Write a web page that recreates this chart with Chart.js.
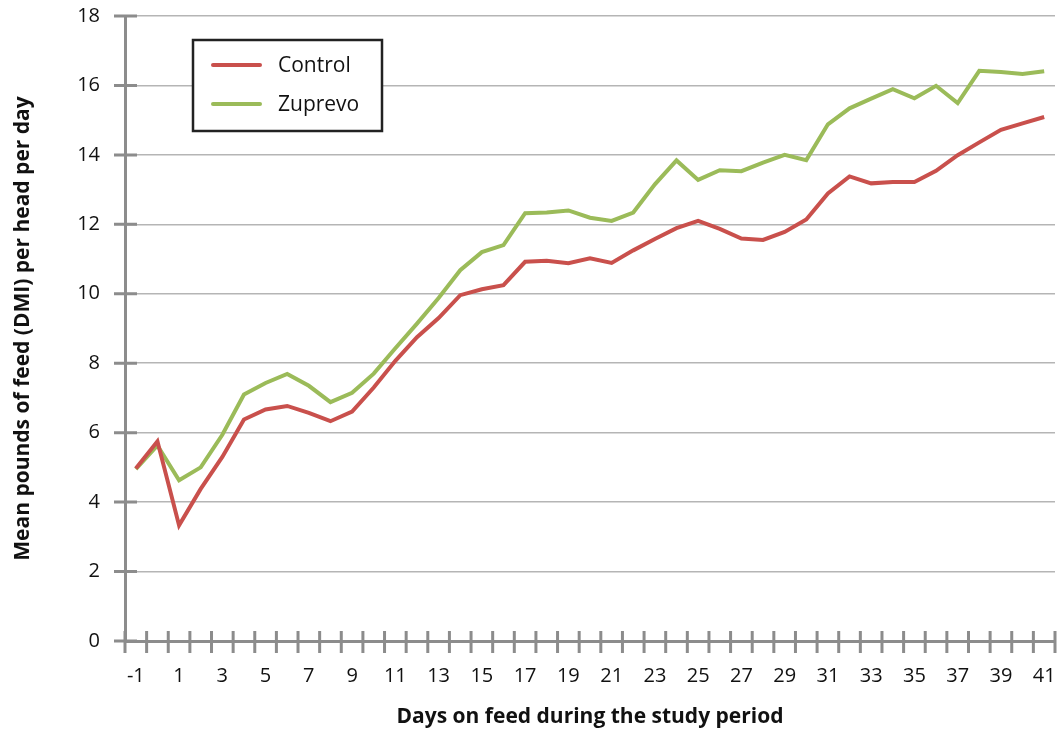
<!DOCTYPE html>
<html>
<head>
<meta charset="utf-8">
<script src="https://cdn.jsdelivr.net/npm/chart.js@4.4.1/dist/chart.umd.min.js"></script>
<style>
  body { margin: 0; background: #fff; }
  #wrap { width: 1064px; height: 736px; }
</style>
</head>
<body>
<div id="wrap"><canvas id="chart"></canvas></div>
<script>
// Days on feed (categories)
const days = [-1, 0, 1, 2, 3, 4, 5, 6, 7, 8, 9, 10, 11, 12, 13, 14, 15, 16, 17, 18, 19, 20,
  21, 22, 23, 24, 25, 26, 27, 28, 29, 30, 31, 32, 33, 34, 35, 36, 37, 38, 39, 40, 41];

// Mean DMI per head per day
const control = [4.97, 5.75, 3.33, 4.38, 5.3, 6.38, 6.67, 6.77, 6.57, 6.33, 6.61, 7.3, 8.07,
  8.75, 9.3, 9.96, 10.13, 10.25, 10.92, 10.95, 10.88, 11.02, 10.89, 11.25, 11.58, 11.89, 12.1,
  11.87, 11.59, 11.55, 11.78, 12.14, 12.89, 13.38, 13.18, 13.22, 13.22, 13.54, 13.99, 14.36,
  14.72, 14.91, 15.09];
const zuprevo = [4.95, 5.63, 4.63, 5.0, 5.94, 7.1, 7.43, 7.69, 7.35, 6.88, 7.15, 7.7, 8.43,
  9.14, 9.88, 10.68, 11.2, 11.4, 12.32, 12.34, 12.4, 12.19, 12.1, 12.34, 13.15, 13.84, 13.28,
  13.56, 13.53, 13.78, 14.0, 13.85, 14.88, 15.34, 15.62, 15.89, 15.63, 15.99, 15.49, 16.42,
  16.39, 16.33, 16.41];

// Y axis tick values
const yTicks = [0, 2, 4, 6, 8, 10, 12, 14, 16, 18];

const FONT = '"Open Sans", "Noto Sans", sans-serif';
const AXIS = '#8c8c8c';

// Tick marks crossing the axes + boxed legend
const axisTicks = {
  id: 'axisTicks',
  afterDraw(chart) {
    const { ctx, chartArea, scales: { x, y } } = chart;
    ctx.save();
    ctx.strokeStyle = AXIS;
    ctx.lineWidth = 3;
    ctx.beginPath();
    y.ticks.forEach((t, i) => {
      const py = y.getPixelForTick(i);
      ctx.moveTo(chartArea.left - 11, py);
      ctx.lineTo(chartArea.left + 12, py);
    });
    const step = x.getPixelForValue(1) - x.getPixelForValue(0);
    for (let i = 0; i <= days.length; i++) {
      const px = x.getPixelForValue(0) - step / 2 + i * step;
      ctx.moveTo(px, chartArea.bottom - 10);
      ctx.lineTo(px, chartArea.bottom + 12);
    }
    ctx.stroke();

    // legend
    const lx = chartArea.left + 68, ly = chartArea.top + 24;
    ctx.fillStyle = '#fff';
    ctx.fillRect(lx, ly, 189, 91);
    ctx.strokeStyle = '#222';
    ctx.lineWidth = 2.5;
    ctx.strokeRect(lx, ly, 189, 91);
    ctx.font = '21px ' + FONT;
    ctx.textBaseline = 'middle';
    chart.data.datasets.forEach((ds, i) => {
      const yy = ly + 25 + i * 39;
      ctx.strokeStyle = ds.borderColor;
      ctx.lineWidth = 4;
      ctx.lineCap = 'round';
      ctx.beginPath();
      ctx.moveTo(lx + 20, yy);
      ctx.lineTo(lx + 67, yy);
      ctx.stroke();
      ctx.fillStyle = '#111';
      ctx.fillText(ds.label, lx + 85, yy + 1);
    });
    ctx.restore();
  }
};

new Chart(document.getElementById('chart'), {
  type: 'line',
  data: {
    labels: days,
    datasets: [
      {
        label: 'Control',
        data: control,
        borderColor: '#c9504c',
        borderWidth: 4,
        pointRadius: 0,
        tension: 0,
      },
      {
        label: 'Zuprevo',
        data: zuprevo,
        borderColor: '#9bbb59',
        borderWidth: 4,
        pointRadius: 0,
        tension: 0,
      },
    ],
  },
  options: {
    responsive: true,
    maintainAspectRatio: false,
    animation: false,
    layout: { padding: { left: 0, right: 9, top: 16, bottom: 0 } },
    plugins: {
      legend: { display: false },
      tooltip: { enabled: false },
    },
    scales: {
      x: {
        offset: true,
        grid: { display: true, drawOnChartArea: false, drawTicks: false },
        border: { display: true, color: AXIS, width: 3 },
        ticks: {
          autoSkip: false,
          maxRotation: 0,
          padding: 23,
          color: '#111',
          font: { family: FONT, size: 20 },
          callback: (v, i) => (i % 2 === 0 ? days[i] : ''),
        },
        title: {
          display: true,
          text: 'Days on feed during the study period',
          color: '#111',
          font: { family: FONT, size: 21, weight: 'bold' },
          padding: { top: 0, bottom: 6 },
        },
        afterFit: (s) => {
          s.height = 95;
          s.paddingLeft = 0;
          s.paddingRight = 0;
        },
      },
      y: {
        min: 0,
        max: 18,
        grid: { color: '#b5b5b5', lineWidth: 1.5, drawTicks: false },
        border: { display: true, color: AXIS, width: 3 },
        afterBuildTicks: (s) => { s.ticks = yTicks.map((v) => ({ value: v })); },
        ticks: {
          padding: 25,
          color: '#111',
          font: { family: FONT, size: 20 },
        },
        title: {
          display: true,
          text: 'Mean pounds of feed (DMI) per head per day',
          color: '#111',
          font: { family: FONT, size: 21, weight: 'bold' },
          padding: { top: 10, bottom: 0 },
        },
        afterFit: (s) => {
          s.width = 125;
          s.paddingTop = 0;
          s.paddingBottom = 0;
        },
      },
    },
  },
  plugins: [axisTicks],
});
</script>
</body>
</html>
